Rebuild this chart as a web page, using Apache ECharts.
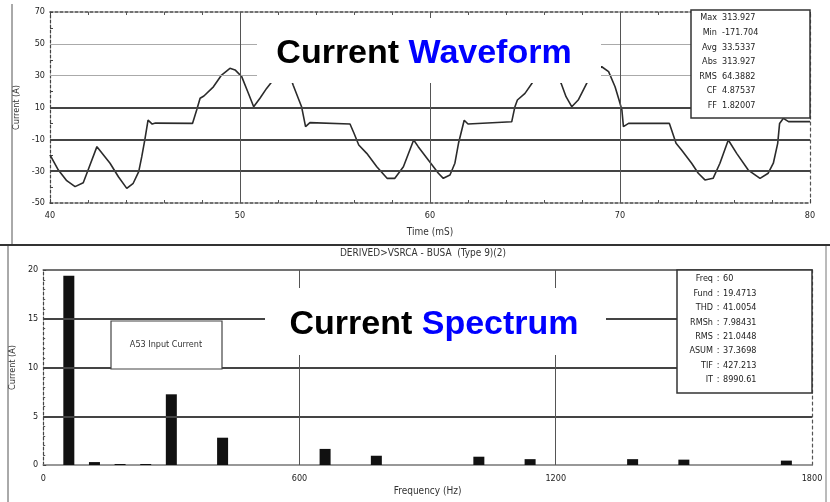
<!DOCTYPE html>
<html><head><meta charset="utf-8">
<script src="https://cdn.jsdelivr.net/npm/echarts@6/dist/echarts.min.js"></script>
<style>html,body{margin:0;padding:0;background:#fff}#c{width:830px;height:502px}</style>
</head><body><div id="c"></div>
<script>
// ---- Waveform (top) ----
const timeMs = [40.0,40.44,40.88,41.32,41.75,42.07,42.47,43.16,43.6,44.04,44.38,44.67,44.83,44.99,45.16,45.38,45.55,47.5,47.72,47.9,48.1,48.6,49.03,49.47,49.74,50.09,50.44,50.72,51.05,51.4,51.8,52.1,52.35,52.6,52.8,53.24,53.45,53.68,55.79,56.0,56.25,56.67,57.2,57.74,58.15,58.6,59.14,59.38,59.91,60.44,60.7,61.05,61.31,61.5,61.8,62.0,64.3,64.47,64.6,65.0,65.45,65.8,66.1,66.4,66.7,66.9,67.16,67.46,67.8,68.34,68.68,69.04,69.4,69.74,69.95,70.1,70.18,70.45,72.6,72.95,73.24,73.77,74.12,74.47,74.9,75.26,75.7,76.14,76.75,77.37,77.8,78.07,78.3,78.4,78.6,78.87,80.0];
const currentA = [-19.8,-29.3,-36,-39.7,-37.3,-27.2,-14.6,-25,-33.5,-40.8,-37.6,-30.3,-20.9,-10.4,2.1,-0.4,0.2,0,8.4,15.8,17.2,23,30.4,34.6,33.6,29.4,19,10.5,15.8,22,28,33,35,31,24,10.5,-2,0.5,-0.4,-6.2,-13.6,-18.8,-27.2,-34.5,-34.5,-27.2,-10.4,-14.6,-23,-31.3,-34.5,-32.4,-25,-12.5,2,-0.4,1,10.5,14.7,18.9,26.6,32,35,34,29,25.2,16.8,10.5,14.7,27.3,32.5,35.6,32.5,23,14.7,8.4,-2,0,0,-12.5,-16.7,-25,-31.3,-35.5,-34.5,-25,-10.4,-18.8,-29.3,-34.5,-31.3,-25,-12.5,0,3.2,1.1,1.1];
const waveYTicks = [-50,-30,-10,10,30,50,70];
const waveXTicks = [40,50,60,70,80];
const waveStatLabels = ['Max','Min','Avg','Abs','RMS','CF','FF'];
const waveStatValues = ['313.927','-171.704','33.5337','313.927','64.3882','4.87537','1.82007'];

// ---- Spectrum (bottom) ----
const harmonicFreqHz = [60,120,180,240,300,420,660,780,1020,1140,1380,1500,1740];
const harmonicAmpA   = [19.4,0.3,0.1,0.1,7.25,2.8,1.65,0.95,0.85,0.6,0.6,0.55,0.45];
const specYTicks = [0,5,10,15,20];
const specXTicks = [0,600,1200,1800];
const specStatLabels = ['Freq','Fund','THD','RMSh','RMS','ASUM','TIF','IT'];
const specStatValues = ['60','19.4713','41.0054','7.98431','21.0448','37.3698','427.213','8990.61'];

const FONT = "'Liberation Sans Narrow','DejaVu Sans Condensed','Liberation Sans',sans-serif";
const INK = '#2b2b2b';

const chart = echarts.init(document.getElementById('c'), null, {renderer:'canvas'});

function hLine(v, color, width, type){ return {yAxis:v, lineStyle:{color, width, type:type||'solid'}}; }
function vLine(v, color, width, type){ return {xAxis:v, lineStyle:{color, width, type:type||'solid'}}; }

const axisLbl = {color:'#222', fontSize:9, fontFamily:FONT};

const graphics = [];
// frame lines
graphics.push({type:'line', shape:{x1:12,y1:4,x2:12,y2:244}, style:{stroke:'#555',lineWidth:1}, z:100});
graphics.push({type:'line', shape:{x1:0,y1:245,x2:830,y2:245}, style:{stroke:'#333',lineWidth:2}, z:100});
graphics.push({type:'line', shape:{x1:8,y1:246,x2:8,y2:502}, style:{stroke:'#555',lineWidth:1}, z:100});
graphics.push({type:'line', shape:{x1:826,y1:246,x2:826,y2:502}, style:{stroke:'#777',lineWidth:1}, z:100});
graphics.push({type:'text', x:423, y:253, style:{text:'DERIVED>VSRCA - BUSA  (Type 9)(2)', font:"10px "+FONT, fill:'#333', align:'center', verticalAlign:'middle'}, z:100});

// title boxes
graphics.push({type:'rect', shape:{x:257,y:18,width:344,height:65}, style:{fill:'#fff'}, z:100});
graphics.push({type:'text', x:424, y:54, style:{text:'{a|Current }{b|Waveform}', align:'center', verticalAlign:'middle',
  rich:{a:{fill:'#000', font:"bold 34px 'Liberation Sans',Arial,sans-serif"}, b:{fill:'#0000ff', font:"bold 34px 'Liberation Sans',Arial,sans-serif"}}}, z:101});
graphics.push({type:'rect', shape:{x:265,y:288,width:341,height:67}, style:{fill:'#fff'}, z:100});
graphics.push({type:'text', x:434, y:325, style:{text:'{a|Current }{b|Spectrum}', align:'center', verticalAlign:'middle',
  rich:{a:{fill:'#000', font:"bold 34px 'Liberation Sans',Arial,sans-serif"}, b:{fill:'#0000ff', font:"bold 34px 'Liberation Sans',Arial,sans-serif"}}}, z:101});

// stats box top
graphics.push({type:'rect', shape:{x:691,y:10,width:119,height:108}, style:{fill:'#fff', stroke:'#333', lineWidth:1.5}, z:100});
waveStatLabels.forEach((l,i)=>{
  const y = 18 + i*14.6;
  graphics.push({type:'text', x:717, y, style:{text:l, font:"9px "+FONT, fill:'#222', align:'right', verticalAlign:'middle'}, z:101});
  graphics.push({type:'text', x:722, y, style:{text:waveStatValues[i], font:"9px "+FONT, fill:'#222', align:'left', verticalAlign:'middle'}, z:101});
});
// stats box bottom
graphics.push({type:'rect', shape:{x:677,y:270,width:135,height:123}, style:{fill:'#fff', stroke:'#333', lineWidth:1.5}, z:100});
specStatLabels.forEach((l,i)=>{
  const y = 279 + i*14.4;
  graphics.push({type:'text', x:713, y, style:{text:l, font:"9px "+FONT, fill:'#222', align:'right', verticalAlign:'middle'}, z:101});
  graphics.push({type:'text', x:718, y, style:{text:':', font:"9px "+FONT, fill:'#222', align:'center', verticalAlign:'middle'}, z:101});
  graphics.push({type:'text', x:723, y, style:{text:specStatValues[i], font:"9px "+FONT, fill:'#222', align:'left', verticalAlign:'middle'}, z:101});
});
// A53 label box
graphics.push({type:'rect', shape:{x:111,y:321,width:111,height:48}, style:{fill:'#fff', stroke:'#444', lineWidth:1.2}, z:100});
graphics.push({type:'text', x:166, y:345, style:{text:'A53 Input Current', font:"9px "+FONT, fill:'#333', align:'center', verticalAlign:'middle'}, z:101});

const option = {
  backgroundColor:'#fff',
  animation:false,
  grid:[
    {left:50, right:20, top:12, height:191},
    {left:43, right:18, top:270, height:195}
  ],
  xAxis:[
    {gridIndex:0, type:'value', position:'bottom', min:waveXTicks[0], max:waveXTicks[waveXTicks.length-1], interval:10,
     axisLine:{onZero:false, lineStyle:{color:'#444', width:1.5, type:[3,2]}}, axisTick:{inside:true, length:4, lineStyle:{color:'#444'}},
     minorTick:{show:true, splitNumber:5, length:3, lineStyle:{color:'#555'}}, splitLine:{show:false}, minorSplitLine:{show:false},
     axisLabel:Object.assign({margin:8}, axisLbl),
     name:'Time (mS)', nameLocation:'middle', nameGap:24, nameTextStyle:{color:'#333', fontSize:10, fontFamily:FONT}},
    {gridIndex:0, type:'value', position:'top', min:40, max:80, interval:10,
     axisLine:{onZero:false, lineStyle:{color:'#444', width:1.5, type:[3,2]}}, axisTick:{inside:true, length:4, lineStyle:{color:'#444'}},
     minorTick:{show:true, splitNumber:5, length:3, lineStyle:{color:'#555'}}, axisLabel:{show:false}, splitLine:{show:false}},
    {gridIndex:1, type:'value', position:'bottom', min:specXTicks[0], max:specXTicks[specXTicks.length-1], interval:600,
     axisLine:{onZero:false, lineStyle:{color:'#777', width:1.5}}, axisTick:{show:false},
     splitLine:{show:false}, axisLabel:Object.assign({margin:9, formatter:v => String(v)}, axisLbl),
     name:'Frequency (Hz)', nameLocation:'middle', nameGap:21, nameTextStyle:{color:'#333', fontSize:10, fontFamily:FONT}},
    {gridIndex:1, type:'value', position:'top', min:0, max:1800, interval:600,
     axisLine:{onZero:false, lineStyle:{color:'#444', width:1.5}}, axisTick:{show:false}, axisLabel:{show:false}, splitLine:{show:false}}
  ],
  yAxis:[
    {gridIndex:0, type:'value', position:'left', min:-50, max:70, interval:10,
     axisLine:{show:true, onZero:false, lineStyle:{color:'#444', width:1.2, type:[3,2]}}, axisTick:{show:true, inside:true, length:3, lineStyle:{color:'#444'}},
     splitLine:{show:false},
     axisLabel:Object.assign({margin:5, formatter:v => waveYTicks.indexOf(v) >= 0 ? String(v) : ''}, axisLbl),
     name:'Current (A)', nameLocation:'middle', nameGap:28, nameTextStyle:{color:'#333', fontSize:9, fontFamily:FONT}},
    {gridIndex:0, type:'value', position:'right', min:-50, max:70, interval:10,
     axisLine:{show:true, onZero:false, lineStyle:{color:'#555', width:1.2, type:[3,3]}}, axisTick:{show:false}, axisLabel:{show:false}, splitLine:{show:false}},
    {gridIndex:1, type:'value', position:'left', min:specYTicks[0], max:specYTicks[specYTicks.length-1], interval:5,
     axisLine:{show:true, onZero:false, lineStyle:{color:'#444', width:1.2, type:[3,2]}}, axisTick:{show:true, inside:true, length:3, lineStyle:{color:'#444'}},
     minorTick:{show:true, splitNumber:5, length:2, lineStyle:{color:'#555'}}, splitLine:{show:false},
     axisLabel:Object.assign({margin:5}, axisLbl),
     name:'Current (A)', nameLocation:'middle', nameGap:22, nameTextStyle:{color:'#333', fontSize:9, fontFamily:FONT}},
    {gridIndex:1, type:'value', position:'right', min:0, max:20, interval:5,
     axisLine:{show:true, onZero:false, lineStyle:{color:'#555', width:1.2, type:[3,3]}}, axisTick:{show:false}, axisLabel:{show:false}, splitLine:{show:false}}
  ],
  series:[
    {type:'line', xAxisIndex:0, yAxisIndex:0, data:[], z:1, silent:true,
     markLine:{silent:true, symbol:'none', label:{show:false}, animation:false,
       data:[hLine(50,'#aaa',1), hLine(30,'#aaa',1), hLine(10,'#444',2), hLine(-10,'#444',2), hLine(-30,'#444',2),
             vLine(50,'#555',1), vLine(60,'#555',1), vLine(70,'#555',1)]}},
    {type:'line', xAxisIndex:0, yAxisIndex:0, z:3, showSymbol:false, symbol:'none',
     data: timeMs.map((t,i)=>[t, currentA[i]]),
     lineStyle:{color:INK, width:1.6}},
    {type:'line', xAxisIndex:2, yAxisIndex:2, data:[], z:1, silent:true,
     markLine:{silent:true, symbol:'none', label:{show:false}, animation:false,
       data:[hLine(15,'#444',2), hLine(10,'#444',2), hLine(5,'#444',2),
             vLine(600,'#555',1), vLine(1200,'#555',1)]}},
    {type:'bar', xAxisIndex:2, yAxisIndex:2, z:3, barWidth:11,
     data: harmonicFreqHz.map((f,i)=>[f, harmonicAmpA[i]]),
     itemStyle:{color:'#111'}}
  ],
  graphic: graphics
};
chart.setOption(option);
</script>
</body></html>
